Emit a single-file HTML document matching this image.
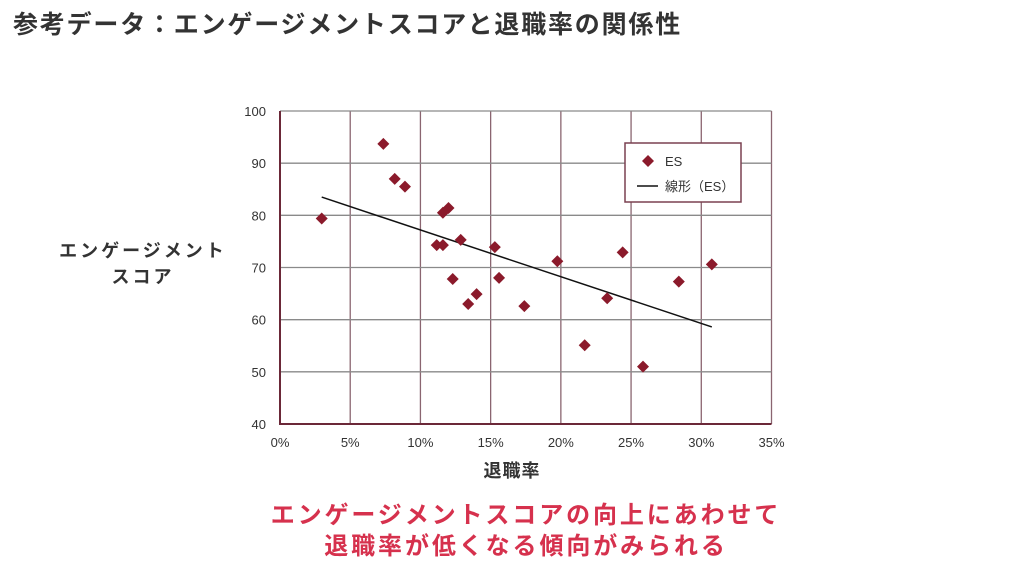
<!DOCTYPE html>
<html><head><meta charset="utf-8"><style>
body{margin:0;width:1024px;height:581px;background:#fff;overflow:hidden;font-family:"Liberation Sans","Noto Sans CJK JP",sans-serif;}
.t{position:absolute;white-space:nowrap;font-weight:bold;}
</style></head><body>
<div class="t" style="left:13px;top:5px;font-size:25px;letter-spacing:1.8px;color:#333;">参考データ：エンゲージメントスコアと退職率の関係性</div>
<div class="t" style="left:40px;top:238px;width:206px;text-align:center;font-size:18px;letter-spacing:3px;line-height:26px;color:#333;">エンゲージメント<br>スコア</div>
<div class="t" style="left:462px;top:457px;width:100px;text-align:center;font-size:18px;letter-spacing:1px;color:#333;">退職率</div>
<div class="t" style="left:0;top:500px;width:1052px;text-align:center;font-size:24px;letter-spacing:2.9px;line-height:31px;color:#d6314d;">エンゲージメントスコアの向上にあわせて<br>退職率が低くなる傾向がみられる</div>
<svg id="chart" width="1024" height="581" style="position:absolute;left:0;top:0;" font-family="Liberation Sans, sans-serif"></svg>
<script>
const xVals=[2.97,7.36,8.17,8.9,11.6,12.0,11.16,11.6,12.87,12.3,13.4,14.0,15.3,15.6,17.4,19.75,21.7,23.3,24.4,25.85,28.4,30.75];
const yVals=[79.4,93.7,87.0,85.5,80.5,81.4,74.3,74.3,75.3,67.8,63.0,64.9,73.9,68.0,62.6,71.2,55.1,64.1,72.9,51.0,67.3,70.6];
const trendX=[2.97,30.75];
const trendY=[83.5,58.6];
const xTicks=[0,5,10,15,20,25,30,35];
const xTickLabels=["0%","5%","10%","15%","20%","25%","30%","35%"];
const yTicks=[40,50,60,70,80,90,100];
const yTickLabels=["40","50","60","70","80","90","100"];
const L=280,R=771.5,T=111,B=424;
const sx=v=>L+(v-0)/(35-0)*(R-L);
const sy=v=>B-(v-40)/(100-40)*(B-T);
const svg=document.getElementById('chart');
const NS='http://www.w3.org/2000/svg';
function mk(t,a){const e=document.createElementNS(NS,t);for(const k in a)e.setAttribute(k,a[k]);svg.appendChild(e);return e;}
xTicks.forEach((v,i)=>{
 const l=mk('line',{x1:sx(v),x2:sx(v),y1:T,y2:B,stroke:'#8a6570','stroke-width':1.3});
 
 
 const t=mk('text',{x:sx(v),y:B+23,'text-anchor':'middle','font-size':13,fill:'#333'});
 t.textContent=xTickLabels[i];
 
 
});
yTicks.forEach((v,i)=>{
 const l=mk('line',{x1:L,x2:R,y1:sy(v),y2:sy(v),stroke:'#8a8a8a','stroke-width':1.3});
 
 
 const t=mk('text',{x:L-14,y:sy(v)+5,'text-anchor':'end','font-size':13,fill:'#333'});
 t.textContent=yTickLabels[i];
 
 
});
const ax=mk('polyline',{points:`${L},${T} ${L},${B} ${R},${B}`,fill:'none',stroke:'#6b2838','stroke-width':2});


const tr=mk('line',{x1:sx(trendX[0]),y1:sy(trendY[0]),x2:sx(trendX[1]),y2:sy(trendY[1]),stroke:'#111','stroke-width':1.5});


xVals.forEach((x,i)=>{
 const cx=sx(x),cy=sy(yVals[i]),s=6;
 const p=mk('polygon',{points:`${cx},${cy-s} ${cx+s},${cy} ${cx},${cy+s} ${cx-s},${cy}`,fill:'#8b1a2b'});
 
 
});
const lg=mk('rect',{x:625,y:143,width:116,height:59,fill:'#fff',stroke:'#7a4050','stroke-width':1.5});


const lm=mk('polygon',{points:'648,155 654,161 648,167 642,161',fill:'#8b1a2b'});


const lt1=mk('text',{x:665,y:166,'font-size':13,fill:'#333'});lt1.textContent='ES';


const ll=mk('line',{x1:637,x2:658,y1:186,y2:186,stroke:'#111','stroke-width':1.5});


const lt2=mk('text',{x:665,y:191,'font-size':13,fill:'#333','font-family':'Liberation Sans, Noto Sans CJK JP, sans-serif'});lt2.textContent='線形（ES）';


</script>
</body></html>
